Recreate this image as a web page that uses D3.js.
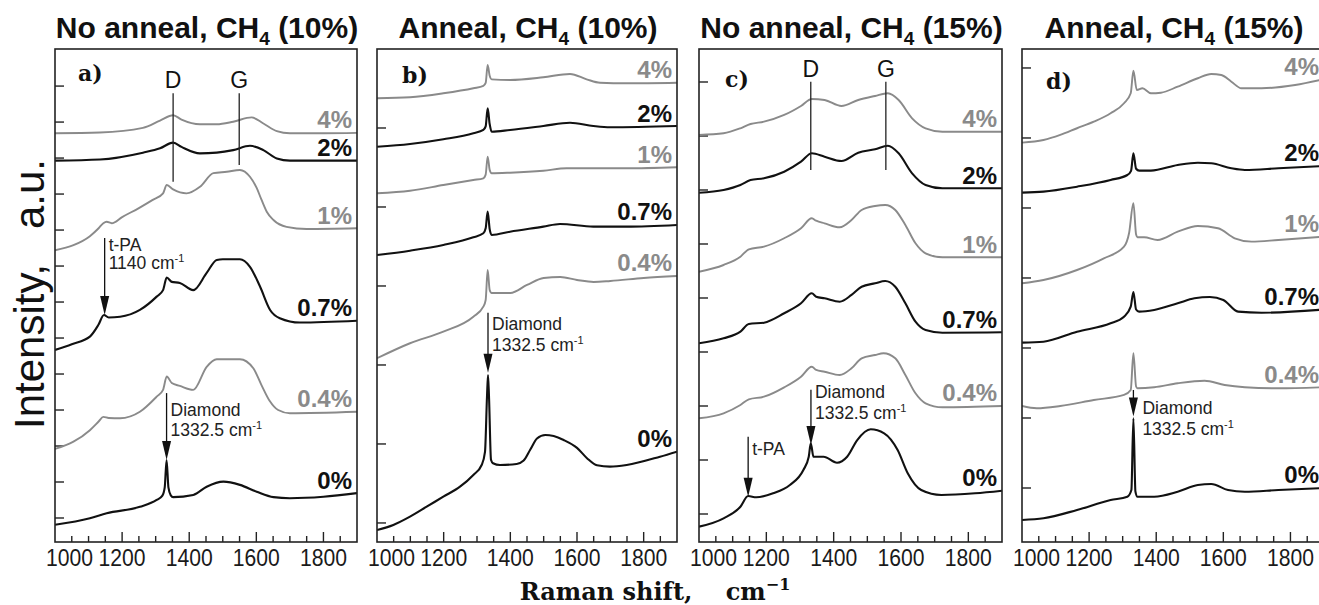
<!DOCTYPE html>
<html>
<head>
<meta charset="utf-8">
<script src="https://cdn.jsdelivr.net/npm/d3@7"></script>
<style>
  body { margin: 0; background: #fff; }
  svg { display: block; }
  .sans { font-family: "Liberation Sans", Arial, sans-serif; }
  .serif { font-family: "DejaVu Serif", "Liberation Serif", serif; }
</style>
</head>
<body>
<svg id="chart" width="1319" height="605"></svg>
<script>
// ---- data (Raman shift in cm^-1, intensity in a.u. with curve offsets) ----
const xTickValues = [1000, 1200, 1400, 1600, 1800];
const concentrations = ['4%', '2%', '1%', '0.7%', '0.4%', '0%'];
const panelLetters = ['a)', 'b)', 'c)', 'd)'];
const titleStates = ['No anneal', 'Anneal', 'No anneal', 'Anneal'];
const titleMethane = ['10%', '10%', '15%', '15%'];

const spectraA = [
  [[1000,11.69],[1134,11.71],[1262,11.84],[1313,12.04],[1352,12.19],[1377,12.07],[1432,11.94],[1482,11.94],[1531,12.01],[1586,12.13],[1621,11.96],[1661,11.75],[1700,11.69],[1800,11.69],[1900,11.70]],
  [[1000,10.93],[1134,10.96],[1262,11.15],[1313,11.27],[1352,11.43],[1377,11.31],[1432,11.13],[1482,11.15],[1531,11.22],[1581,11.34],[1621,11.22],[1661,10.99],[1700,10.93],[1800,10.93],[1900,10.93]],
  [[1000,8.44],[1055,8.58],[1104,8.83],[1130,9.05],[1144,9.19],[1154,9.23],[1169,9.19],[1200,9.36],[1250,9.61],[1290,9.83],[1322,10.02],[1333,10.25],[1352,10.13],[1392,10.02],[1432,10.2],[1472,10.58],[1512,10.62],[1551,10.67],[1581,10.48],[1601,10.17],[1615,9.85],[1631,9.51],[1651,9.28],[1690,9.09],[1750,9.03],[1900,9.05]],
  [[1000,5.67],[1050,5.83],[1104,6.04],[1129,6.36],[1146,6.64],[1160,6.57],[1194,6.59],[1253,6.78],[1303,7.15],[1322,7.33],[1333,7.68],[1348,7.56],[1372,7.53],[1412,7.33],[1452,7.81],[1482,8.17],[1500,8.19],[1551,8.19],[1581,7.98],[1611,7.43],[1641,6.78],[1670,6.55],[1730,6.43],[1900,6.48]],
  [[1000,2.92],[1055,3.12],[1104,3.44],[1130,3.68],[1144,3.81],[1160,3.78],[1194,3.77],[1253,3.95],[1303,4.37],[1322,4.56],[1333,4.93],[1348,4.75],[1372,4.67],[1412,4.56],[1452,5.2],[1482,5.41],[1551,5.41],[1591,5.16],[1615,4.7],[1640,4.25],[1665,4.0],[1700,3.91],[1900,3.95]],
  [[1000,0.81],[1104,0.99],[1154,1.13],[1253,1.31],[1303,1.5],[1320,1.62],[1327,1.85],[1332.5,2.61],[1338,1.85],[1345,1.63],[1352,1.58],[1412,1.64],[1452,1.87],[1502,2.01],[1551,1.92],[1601,1.73],[1651,1.58],[1700,1.55],[1800,1.59],[1900,1.69]]
];

const spectraB = [
  [[1000,6.376],[1099,6.389],[1199,6.439],[1289,6.503],[1319,6.532],[1326,6.57],[1332,6.797],[1338,6.66],[1344,6.616],[1399,6.608],[1499,6.642],[1579,6.684],[1629,6.616],[1669,6.573],[1749,6.566],[1900,6.573]],
  [[1000,5.763],[1099,5.797],[1199,5.857],[1289,5.933],[1319,5.975],[1326,6.02],[1332,6.249],[1338,6.05],[1344,5.953],[1399,5.975],[1499,6.025],[1579,6.067],[1649,6.025],[1699,6.009],[1900,6.025]],
  [[1000,5.173],[1099,5.206],[1199,5.278],[1289,5.342],[1319,5.363],[1326,5.41],[1332,5.637],[1338,5.47],[1344,5.427],[1399,5.434],[1499,5.459],[1569,5.49],[1649,5.49],[1749,5.49],[1900,5.503]],
  [[1000,4.392],[1099,4.447],[1199,4.519],[1289,4.616],[1319,4.667],[1326,4.73],[1332,4.941],[1338,4.72],[1344,4.646],[1399,4.687],[1499,4.751],[1549,4.785],[1649,4.751],[1749,4.751],[1900,4.772]],
  [[1000,3.085],[1099,3.275],[1199,3.422],[1289,3.611],[1319,3.738],[1326,3.823],[1332,4.203],[1338,3.95],[1344,3.911],[1400,3.911],[1450,4.013],[1500,4.101],[1550,4.114],[1600,4.076],[1650,4.051],[1700,4.063],[1800,4.101],[1900,4.127]],
  [[1000,0.911],[1049,0.975],[1099,1.08],[1149,1.206],[1199,1.333],[1249,1.459],[1289,1.608],[1314,1.734],[1324,1.9],[1330,2.6],[1333,2.873],[1336,2.6],[1342,1.8],[1348,1.756],[1369,1.734],[1419,1.747],[1440,1.79],[1460,1.93],[1480,2.07],[1505,2.114],[1530,2.1],[1560,2.05],[1600,1.95],[1630,1.82],[1660,1.73],[1699,1.713],[1749,1.734],[1849,1.839],[1900,1.903]]
];

const spectraC = [
  [[1000,8.019],[1073,8.05],[1123,8.143],[1153,8.222],[1193,8.265],[1253,8.389],[1303,8.556],[1335,8.685],[1373,8.667],[1423,8.556],[1473,8.667],[1523,8.741],[1561,8.791],[1593,8.667],[1633,8.328],[1673,8.143],[1723,8.08],[1900,8.08]],
  [[1000,6.95],[1073,7.0],[1123,7.093],[1153,7.185],[1193,7.217],[1253,7.339],[1303,7.524],[1335,7.68],[1373,7.617],[1423,7.537],[1473,7.691],[1523,7.754],[1561,7.82],[1593,7.68],[1633,7.309],[1673,7.093],[1723,7.031],[1900,7.031]],
  [[1000,5.487],[1073,5.611],[1123,5.765],[1148,5.902],[1193,5.95],[1253,6.106],[1303,6.291],[1335,6.476],[1348,6.431],[1373,6.383],[1418,6.309],[1453,6.444],[1483,6.63],[1523,6.704],[1553,6.722],[1583,6.63],[1613,6.352],[1643,6.013],[1673,5.828],[1723,5.754],[1900,5.754]],
  [[1000,4.161],[1073,4.254],[1123,4.376],[1148,4.519],[1193,4.543],[1253,4.717],[1303,4.902],[1335,5.087],[1348,5.024],[1373,4.994],[1418,4.931],[1453,5.056],[1483,5.209],[1523,5.272],[1553,5.315],[1583,5.209],[1613,4.902],[1643,4.561],[1673,4.407],[1723,4.357],[1900,4.365]],
  [[1000,2.772],[1073,2.865],[1123,3.019],[1148,3.124],[1193,3.172],[1253,3.346],[1303,3.543],[1335,3.728],[1348,3.667],[1373,3.635],[1418,3.574],[1453,3.698],[1483,3.883],[1523,3.944],[1548,3.976],[1583,3.883],[1613,3.574],[1643,3.235],[1673,3.05],[1723,2.976],[1900,3.0]],
  [[1000,0.765],[1073,0.92],[1123,1.135],[1146,1.333],[1170,1.309],[1220,1.383],[1270,1.537],[1310,1.815],[1326,2.061],[1332,2.309],[1340,2.061],[1370,2.061],[1410,1.95],[1440,2.061],[1470,2.37],[1510,2.569],[1550,2.494],[1590,2.185],[1620,1.754],[1660,1.444],[1720,1.352],[1820,1.383],[1900,1.431]]
];

const spectraD = [
  [[1000,5.933],[1064,5.971],[1114,6.043],[1164,6.139],[1214,6.233],[1264,6.353],[1304,6.496],[1324,6.639],[1332,6.961],[1342,6.686],[1359,6.71],[1384,6.639],[1414,6.647],[1464,6.733],[1524,6.853],[1564,6.914],[1594,6.9],[1624,6.804],[1654,6.71],[1714,6.71],[1814,6.757],[1900,6.84]],
  [[1000,5.219],[1064,5.233],[1164,5.304],[1264,5.4],[1314,5.471],[1325,5.53],[1332,5.781],[1340,5.56],[1349,5.533],[1384,5.533],[1464,5.614],[1524,5.647],[1564,5.639],[1624,5.567],[1664,5.543],[1764,5.567],[1900,5.6]],
  [[1000,3.924],[1064,3.971],[1164,4.114],[1244,4.281],[1304,4.447],[1319,4.639],[1332,5.067],[1340,4.62],[1344,4.581],[1364,4.581],[1404,4.543],[1464,4.661],[1524,4.743],[1584,4.71],[1634,4.567],[1684,4.519],[1764,4.543],[1900,4.59]],
  [[1000,3.076],[1064,3.09],[1164,3.233],[1264,3.353],[1304,3.447],[1324,3.59],[1332,3.8],[1340,3.55],[1349,3.519],[1394,3.543],[1464,3.639],[1514,3.71],[1560,3.729],[1600,3.686],[1644,3.519],[1714,3.504],[1900,3.55]],
  [[1000,2.171],[1044,2.139],[1114,2.171],[1214,2.257],[1304,2.329],[1324,2.4],[1332,2.924],[1340,2.45],[1344,2.424],[1394,2.439],[1464,2.496],[1544,2.533],[1604,2.471],[1664,2.439],[1764,2.424],[1900,2.44]],
  [[1000,0.543],[1064,0.567],[1164,0.686],[1264,0.829],[1314,0.876],[1326,0.971],[1332,1.996],[1338,0.95],[1344,0.876],[1394,0.876],[1464,0.947],[1524,1.043],[1564,1.057],[1614,0.971],[1664,0.947],[1764,0.971],[1900,1.0]]
];

// band markers: panel, position, top value, bottom value, label
const bandLines = [
  ['a', 1352, 12.80, 10.34, 'D'], ['a', 1549, 12.80, 10.81, 'G'],
  ['c', 1332, 9.006, 7.37, 'D'], ['c', 1555, 9.006, 7.37, 'G']
];
// peak arrows: panel, position, start value, tip value
const peakArrows = [
  ['a', 1148, 8.78, 6.64], ['a', 1332.5, 4.47, 2.61], ['b', 1333, 3.66, 2.90],
  ['c', 1146, 2.43, 1.32], ['c', 1332.5, 3.30, 2.28], ['d', 1332, 2.40, 2.02]
];
// peak notes: panel, position, value (baseline), text, superscript
const peakNotes = [
  ['a', 1148, 8.42, 't-PA', ''], ['a', 1148, 7.93, '1140 cm', '-1'],
  ['a', 1332.5, 3.84, 'Diamond', ''], ['a', 1332.5, 3.28, '1332.5 cm', '-1'],
  ['b', 1333, 3.44, 'Diamond', ''], ['b', 1333, 3.18, '1332.5 cm', '-1'],
  ['c', 1146, 2.09, 't-PA', ''],
  ['c', 1332.5, 3.14, 'Diamond', ''], ['c', 1332.5, 2.76, '1332.5 cm', '-1'],
  ['d', 1332, 2.05, 'Diamond', ''], ['d', 1332, 1.75, '1332.5 cm', '-1']
];

// ---- layout ----
const plotTop = 49, plotBottom = 542;
const panels = [
  { key: 'a', left: 55, right: 357, yDomain: [0.333, 14.03], yTicks: d3.range(1, 14), spectra: spectraA, letter: [23, 32] },
  { key: 'b', left: 377, right: 677, yDomain: [0.759, 7.0], yTicks: d3.range(1, 7), spectra: spectraB, letter: [25, 34] },
  { key: 'c', left: 699, right: 1002, yDomain: [0.4815, 9.611], yTicks: d3.range(1, 10), spectra: spectraC, letter: [26, 38] },
  { key: 'd', left: 1022, right: 1324, yDomain: [0.2286, 7.271], yTicks: d3.range(1, 8), spectra: spectraD, letter: [24, 40] }
];
const lineColours = ['#8a8a8a', '#111', '#8a8a8a', '#111', '#8a8a8a', '#111'];

const svg = d3.select('#chart');
const defs = svg.append('defs');

panels.forEach((p, i) => {
  const x = d3.scaleLinear().domain([1000, 1900]).range([p.left, p.right]);
  const y = d3.scaleLinear().domain(p.yDomain).range([plotBottom, plotTop]);
  const g = svg.append('g').attr('class', `panel-${p.key}`);

  defs.append('clipPath').attr('id', `clip-${p.key}`)
    .append('rect').attr('x', p.left).attr('y', plotTop)
    .attr('width', p.right - p.left).attr('height', plotBottom - plotTop);

  // title
  const title = g.append('text').attr('class', 'sans')
    .attr('x', (p.left + p.right) / 2 + 1).attr('y', 38)
    .attr('text-anchor', 'middle').attr('font-size', 30).attr('font-weight', 'bold').attr('fill', '#111');
  title.append('tspan').text(`${titleStates[i]}, CH`);
  title.append('tspan').attr('font-size', 19).attr('dy', 7).text('4');
  title.append('tspan').attr('dy', -7).text(` (${titleMethane[i]})`);

  // y ticks (inward)
  g.append('g').selectAll('line').data(p.yTicks).join('line')
    .attr('x1', p.left).attr('x2', p.left + 9)
    .attr('y1', (d) => y(d)).attr('y2', (d) => y(d))
    .attr('stroke', '#222').attr('stroke-width', 1.4);

  // x ticks (inward)
  const minor = d3.range(1050, 1900, 50);
  g.append('g').selectAll('line').data(minor).join('line')
    .attr('x1', (d) => x(d)).attr('x2', (d) => x(d))
    .attr('y1', plotBottom).attr('y2', (d) => plotBottom - (d % 200 === 0 ? 10 : 6))
    .attr('stroke', '#222').attr('stroke-width', 1.4);

  g.append('g').selectAll('text').data(xTickValues).join('text')
    .attr('class', 'sans')
    .attr('x', (d, k) => (k === 0 ? x(d) - 9 : x(d)))
    .attr('y', 566)
    .attr('text-anchor', (d, k) => (k === 0 ? 'start' : 'middle'))
    .attr('font-size', 23).attr('fill', '#1a1a1a')
    .attr('textLength', 47).attr('lengthAdjust', 'spacingAndGlyphs')
    .text((d) => d);

  // spectra
  const line = d3.line().x((d) => x(d[0])).y((d) => y(d[1])).curve(d3.curveMonotoneX);
  const lines = g.append('g').attr('clip-path', `url(#clip-${p.key})`);
  lines.selectAll('path').data(p.spectra).join('path')
    .attr('d', line).attr('fill', 'none')
    .attr('stroke', (d, k) => lineColours[k])
    .attr('stroke-width', (d, k) => (k % 2 ? 2.1 : 1.9))
    .attr('stroke-linejoin', 'round');

  // concentration labels
  g.append('g').selectAll('text').data(p.spectra).join('text')
    .attr('class', 'sans')
    .attr('x', Math.min(p.right - 5, 1319))
    .attr('y', (d) => y(d[d.length - 1][1]) - 4.5)
    .attr('text-anchor', 'end').attr('font-size', 24).attr('font-weight', 'bold')
    .attr('fill', (d, k) => lineColours[k])
    .text((d, k) => concentrations[k]);

  // band markers
  bandLines.filter((b) => b[0] === p.key).forEach(([, pos, v0, v1, label]) => {
    g.append('line').attr('x1', x(pos)).attr('x2', x(pos)).attr('y1', y(v0)).attr('y2', y(v1))
      .attr('stroke', '#222').attr('stroke-width', 1.3);
    g.append('text').attr('class', 'sans').attr('x', x(pos)).attr('y', y(v0) - 5)
      .attr('text-anchor', 'middle').attr('font-size', 23).attr('fill', '#111').text(label);
  });

  // peak arrows
  peakArrows.filter((a) => a[0] === p.key).forEach(([, pos, v0, v1]) => {
    const px = x(pos), tip = y(v1);
    g.append('line').attr('x1', px).attr('x2', px).attr('y1', y(v0)).attr('y2', tip - 10)
      .attr('stroke', '#111').attr('stroke-width', 1.3);
    g.append('path').attr('d', `M${px - 4.5},${tip - 19}L${px + 4.5},${tip - 19}L${px},${tip}Z`)
      .attr('fill', '#111');
  });

  // peak notes
  peakNotes.filter((n) => n[0] === p.key).forEach(([, pos, v, text, sup]) => {
    const arrow = peakArrows.find((a) => a[0] === p.key && a[1] === pos);
    const besideHead = arrow && y(v) > y(arrow[3]) - 19;
    const t = g.append('text').attr('class', 'sans')
      .attr('x', x(pos) + (besideHead ? 9 : 4)).attr('y', y(v))
      .attr('font-size', 17.5).attr('fill', '#222');
    t.append('tspan').text(text);
    if (sup) t.append('tspan').attr('font-size', 11).attr('dy', -7).text(sup);
  });

  // frame
  g.append('rect').attr('x', p.left).attr('y', plotTop)
    .attr('width', p.right - p.left).attr('height', plotBottom - plotTop)
    .attr('fill', 'none').attr('stroke', '#222').attr('stroke-width', 1.6);

  // panel letter
  g.append('text').attr('class', 'serif')
    .attr('x', p.left + p.letter[0]).attr('y', plotTop + p.letter[1])
    .attr('font-size', 22).attr('font-weight', 'bold').attr('fill', '#111')
    .text(panelLetters[i]);
});

// axis titles
svg.append('text').attr('class', 'sans')
  .attr('transform', 'translate(44,294) rotate(-90)')
  .attr('text-anchor', 'middle').attr('font-size', 42).attr('fill', '#111')
  .style('white-space', 'pre')
  .text('Intensity,   a.u.');

const xTitle = svg.append('text').attr('class', 'serif')
  .attr('x', 655).attr('y', 600).attr('text-anchor', 'middle')
  .attr('font-size', 24).attr('font-weight', 'bold').attr('fill', '#111')
  .style('white-space', 'pre');
xTitle.append('tspan').text('Raman shift,    cm');
xTitle.append('tspan').attr('font-size', 16).attr('dy', -10).text('\u22121');
</script>
</body>
</html>
